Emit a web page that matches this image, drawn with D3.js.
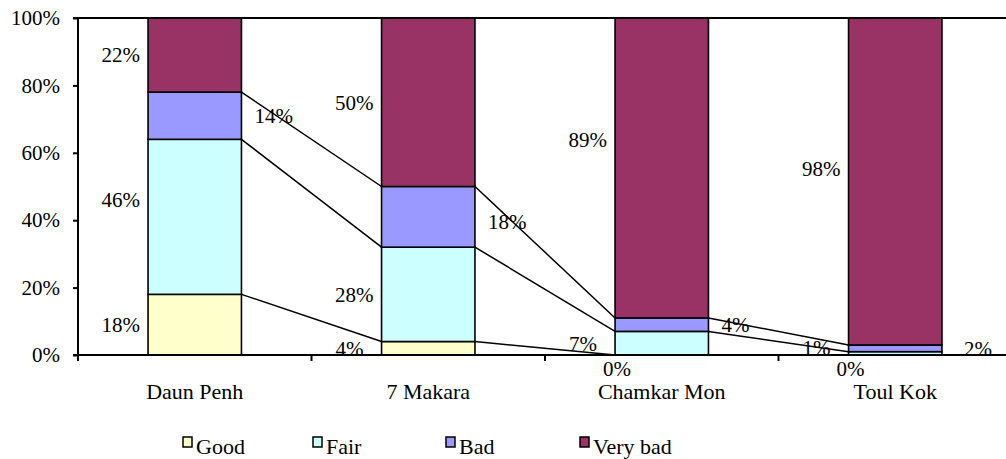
<!DOCTYPE html>
<html>
<head>
<meta charset="utf-8">
<script src="https://cdn.jsdelivr.net/npm/d3@7"></script>
<style>
  html, body { margin: 0; padding: 0; background: #fff; }
  svg { display: block; }
  text { font-family: "Liberation Serif", "Times New Roman", serif; fill: #000; }
</style>
</head>
<body>
<svg id="chart" width="1006" height="459"></svg>
<script>
// Road condition shares by district (percent)
const districts = ["Daun Penh", "7 Makara", "Chamkar Mon", "Toul Kok"];
const conditions = ["Good", "Fair", "Bad", "Very bad"];
const good    = [18, 4, 0, 0];
const fair    = [46, 28, 7, 1];
const bad     = [14, 18, 4, 2];
const veryBad = [22, 50, 89, 98];
const yTicks  = [0, 20, 40, 60, 80, 100];

const colors = ["#FFFFCC", "#CCFFFF", "#9999FF", "#993366"];
const FONT = 21;

// Build rows and normalise each column to 100% (stacked percent layout)
const rows = districts.map((d, i) => {
  const vals = [good[i], fair[i], bad[i], veryBad[i]];
  const total = d3.sum(vals);
  const r = { district: d };
  conditions.forEach((c, k) => { r[c] = vals[k]; r[c + "_n"] = vals[k] / total * 100; });
  return r;
});
const stacked = d3.stack().keys(conditions.map(c => c + "_n"))(rows);

const svg = d3.select("#chart");
const margin = { left: 78, top: 18, bottom: 104 };
const plotRight = 1012;
const H = 459;

const x = d3.scaleBand().domain(districts).range([margin.left, plotRight]).paddingInner(0.6).paddingOuter(0.3);
const xCat = d3.scaleBand().domain(districts).range([margin.left, plotRight]);
const y = d3.scaleLinear().domain([0, 100]).range([H - margin.bottom, margin.top]);

// Bars
stacked.forEach((layer, k) => {
  svg.append("g").selectAll("rect").data(layer).join("rect")
    .attr("x", d => x(d.data.district))
    .attr("width", x.bandwidth())
    .attr("y", d => y(d[1]))
    .attr("height", d => Math.max(0, y(d[0]) - y(d[1])))
    .attr("fill", colors[k])
    .attr("stroke", "#000")
    .attr("stroke-width", 1.6);
});

// Series lines between neighbouring bars at each internal boundary
const lineG = svg.append("g").attr("fill", "none").attr("stroke", "#000").attr("stroke-width", 1.5);
for (let k = 0; k < conditions.length - 1; k++) {
  const layer = stacked[k];
  for (let i = 0; i < layer.length - 1; i++) {
    lineG.append("line")
      .attr("x1", x(districts[i]) + x.bandwidth())
      .attr("y1", y(layer[i][1]))
      .attr("x2", x(districts[i + 1]))
      .attr("y2", y(layer[i + 1][1]));
  }
}

// Top border of plot area
svg.append("line")
  .attr("x1", margin.left).attr("x2", plotRight)
  .attr("y1", y(100)).attr("y2", y(100))
  .attr("stroke", "#000").attr("stroke-width", 2);

// Y axis
const yAxis = d3.axisLeft(y).tickValues(yTicks).tickFormat(d => d + "%").tickSize(5).tickPadding(13);
const gy = svg.append("g").attr("transform", `translate(${margin.left},0)`).call(yAxis);
gy.select(".domain").attr("stroke", "#000").attr("stroke-width", 2).attr("d", `M-5,${y(100)}H0V${y(0)}H-5`);
gy.selectAll(".tick line").attr("stroke", "#000").attr("stroke-width", 2);
gy.selectAll(".tick text").attr("font-size", FONT).attr("font-family", "Liberation Serif").attr("dy", "0.32em");

// X axis with ticks between categories
svg.append("line")
  .attr("x1", margin.left).attr("x2", plotRight)
  .attr("y1", y(0)).attr("y2", y(0))
  .attr("stroke", "#000").attr("stroke-width", 2);
const bounds = districts.map(d => xCat(d)).concat([plotRight]);
svg.append("g").selectAll("line").data(bounds).join("line")
  .attr("x1", d => d).attr("x2", d => d)
  .attr("y1", y(0)).attr("y2", y(0) + 6)
  .attr("stroke", "#000").attr("stroke-width", 2);
svg.append("g").selectAll("text").data(districts).join("text")
  .attr("x", d => xCat(d) + xCat.bandwidth() / 2)
  .attr("y", y(0) + 44)
  .attr("text-anchor", "middle")
  .attr("font-size", 22)
  .text(d => d);

// Value labels: Bad on the right of the bar, others on the left
const labelNudge = {
  "Daun Penh|Fair": -17,
  "Chamkar Mon|Very bad": -28,
  "Toul Kok|Very bad": -13,
  "Toul Kok|Fair": -6,
  "7 Makara|Bad": 5
};
const labelG = svg.append("g").attr("font-size", FONT);
stacked.forEach((layer, k) => {
  const cond = conditions[k];
  layer.forEach(d => {
    const dist = d.data.district;
    const v = d.data[cond];
    const left = x(dist), right = left + x.bandwidth();
    const mid = (y(d[0]) + y(d[1])) / 2 + (labelNudge[dist + "|" + cond] || 0);
    let tx, anchor, ty = mid;
    if (v === 0) {
      tx = left + 2; anchor = "middle"; ty = y(0) + 14;
    } else if (cond === "Bad") {
      tx = right + 13; anchor = "start";
      if (dist === "Toul Kok") tx = right + 22;
    } else {
      tx = left - (v < 10 ? 18 : 8); anchor = "end";
    }
    labelG.append("text")
      .attr("x", tx).attr("y", ty).attr("dy", "0.35em")
      .attr("text-anchor", anchor)
      .text(v + "%");
  });
});

// Legend
const legendX = [183, 313, 446, 580];
const lg = svg.append("g");
conditions.forEach((c, k) => {
  lg.append("rect")
    .attr("x", legendX[k]).attr("y", 437)
    .attr("width", 9).attr("height", 10)
    .attr("fill", colors[k]).attr("stroke", "#000").attr("stroke-width", 1.5);
  lg.append("text")
    .attr("x", legendX[k] + 13).attr("y", 454)
    .attr("font-size", 22)
    .text(c);
});
</script>
</body>
</html>
